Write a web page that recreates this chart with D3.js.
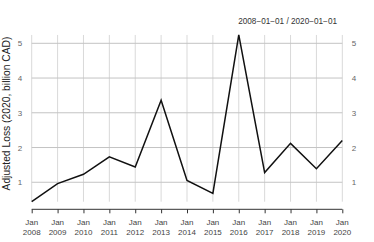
<!DOCTYPE html>
<html><head><meta charset="utf-8">
<script src="https://cdn.jsdelivr.net/npm/d3@7"></script>
<style>body{margin:0;background:#fff}svg{display:block}text{font-family:"Liberation Sans",Arial,sans-serif}</style>
</head><body>
<svg id="c" width="374" height="242"></svg>
<script>
const years = [2008,2009,2010,2011,2012,2013,2014,2015,2016,2017,2018,2019,2020];
const loss = [0.44,0.96,1.23,1.73,1.44,3.36,1.05,0.68,5.24,1.28,2.12,1.39,2.20];
const yTicks = [1,2,3,4,5];
const xTickLabels = years.map(y => "Jan\n" + y);
const title = "2008\u221201\u221201 / 2020\u221201\u221201";
const yTitle = "Adjusted Loss (2020, billion CAD)";

const svg = d3.select("#c");
const x = d3.scaleLinear().domain([2008,2020]).range([31.7,342.3]);
const y = d3.scaleLinear().domain([0,5]).range([217,43.3]);
const ext = d3.extent(loss);
const yTop = y(ext[1]), yBot = y(ext[0]);

svg.append("g").selectAll("line").data(years).join("line")
  .attr("x1", d=>x(d)).attr("x2", d=>x(d)).attr("y1", yTop).attr("y2", yBot)
  .attr("stroke","#d9d9d9").attr("stroke-width",1);
svg.append("g").selectAll("line").data(yTicks).join("line")
  .attr("x1", x(2008)).attr("x2", x(2020)).attr("y1", d=>y(d)).attr("y2", d=>y(d))
  .attr("stroke","#c4c4c4").attr("stroke-width",1);

svg.append("g").selectAll("text").data(yTicks).join("text")
  .attr("x", 20).attr("y", d=>y(d)+3).attr("text-anchor","middle")
  .attr("font-size",8).attr("fill","#666").text(d=>d);
svg.append("g").selectAll("text").data(yTicks).join("text")
  .attr("x", 354).attr("y", d=>y(d)+3).attr("text-anchor","middle")
  .attr("font-size",8).attr("fill","#666").text(d=>d);

const xAxis = d3.axisBottom(x).tickValues(years).tickSize(4).tickFormat("");
const gx = svg.append("g").attr("transform","translate(0,209.3)").call(xAxis);
gx.select(".domain").attr("stroke","#333").attr("d", `M${x(2008)},0H${x(2020)}`);
gx.selectAll(".tick line").attr("stroke","#333");
const lab = svg.append("g").selectAll("text").data(years).join("text")
  .attr("x", d=>x(d)).attr("text-anchor","middle").attr("font-size",8).attr("fill","#444");
lab.append("tspan").attr("x", d=>x(d)).attr("y", 225).text((d,i)=>xTickLabels[i].split("\n")[0]);
lab.append("tspan").attr("x", d=>x(d)).attr("y", 234.5).text((d,i)=>xTickLabels[i].split("\n")[1]);

svg.append("path").datum(years.map((d,i)=>[d,loss[i]]))
  .attr("d", d3.line().x(d=>x(d[0])).y(d=>y(d[1])))
  .attr("fill","none").attr("stroke","#111").attr("stroke-width",1.5).attr("stroke-linejoin","miter");

svg.append("text").attr("x", 337).attr("y", 23.5).attr("text-anchor","end")
  .attr("font-size",8.2).attr("fill","#333").text(title);

svg.append("text").attr("transform","translate(9.8,113.5) rotate(-90)")
  .attr("text-anchor","middle").attr("font-size",10.3).attr("fill","#222").text(yTitle);
</script>
</body></html>
